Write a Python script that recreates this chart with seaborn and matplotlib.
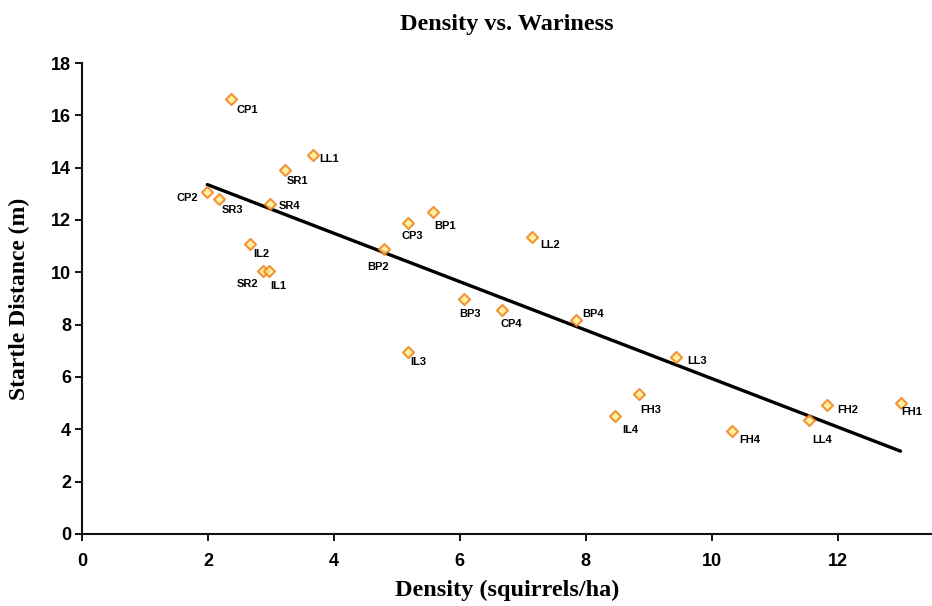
import matplotlib

matplotlib.use("Agg")
import matplotlib.pyplot as plt
import pandas as pd
import seaborn as sns

# site codes and values
sites = [
    "CP1", "LL1", "SR1", "CP2", "SR3", "SR4", "IL2", "SR2", "IL1", "CP3", "BP2", "BP1",
    "LL2", "BP3", "CP4", "BP4", "IL3", "LL3", "FH3", "IL4", "FH4", "LL4", "FH2", "FH1",
]
density = [
    2.37, 3.67, 3.22, 1.99, 2.18, 2.99, 2.67, 2.88, 2.97, 5.17, 4.79, 5.58,
    7.15, 6.07, 6.67, 7.84, 5.17, 9.44, 8.84, 8.46, 10.33, 11.54, 11.83, 13.0,
]
startle = [
    16.63, 14.49, 13.92, 13.08, 12.81, 12.62, 11.09, 10.06, 10.06, 11.89, 10.90, 12.31,
    11.36, 8.99, 8.57, 8.18, 6.96, 6.77, 5.35, 4.51, 3.94, 4.36, 4.93, 5.01,
]
x_ticks = [0, 2, 4, 6, 8, 10, 12]
y_ticks = [0, 2, 4, 6, 8, 10, 12, 14, 16, 18]

# label offsets in pixels (dx, dy), one per site
label_offsets = [
    (16, -11), (16, -4), (13, -11), (-20, -6), (13, -11), (19, -2), (11, -10), (-16, -13),
    (9, -15), (5, -13), (-6, -18), (12, -14), (18, -8), (6, -15), (9, -14), (17, 6),
    (11, -10), (21, -4), (12, -16), (16, -14), (17, -9), (14, -20), (21, -5), (11, -9),
]

df = pd.DataFrame({"site": sites, "density": density, "startle": startle})

sns.set_style("ticks")
plt.rcParams["font.family"] = ["Liberation Sans Narrow", "Liberation Sans", "DejaVu Sans"]
plt.rcParams["text.color"] = "black"
plt.rcParams["axes.labelcolor"] = "black"
plt.rcParams["xtick.color"] = "black"
plt.rcParams["ytick.color"] = "black"

fig = plt.figure(figsize=(9.32, 6.06), dpi=100)
ax = fig.add_axes([0.088, 0.119, 0.912, 0.777])

sns.regplot(
    data=df,
    x="density",
    y="startle",
    ci=None,
    marker="D",
    ax=ax,
    scatter_kws={"s": 32, "facecolor": "#FFEB8A", "edgecolor": "#EE7A12", "linewidths": 1.5, "zorder": 3},
    line_kws={"color": "black", "lw": 2.4, "zorder": 2},
)

for name, xv, yv, (dx, dy) in zip(sites, density, startle, label_offsets):
    ax.annotate(
        name, (xv, yv), xytext=(dx, dy), textcoords="offset pixels",
        ha="center", va="center", fontsize=8, fontweight="bold", color="black",
    )

ax.set_xlim(0, 13.5)
ax.set_ylim(0, 18)
ax.set_xticks(x_ticks)
ax.set_yticks(y_ticks)
ax.tick_params(direction="out", length=5, width=1.3, labelsize=13)
ax.tick_params(axis="x", pad=9)
ax.tick_params(axis="y", pad=3)
for lbl in ax.get_xticklabels() + ax.get_yticklabels():
    lbl.set_fontweight("bold")

sns.despine(ax=ax)
for side in ["left", "bottom"]:
    ax.spines[side].set_linewidth(1.5)
    ax.spines[side].set_color("#111111")

serif = {"family": "Liberation Serif", "weight": "bold", "size": 17.5}
ax.set_xlabel("Density (squirrels/ha)", fontdict=serif, labelpad=7)
ax.set_ylabel("Startle Distance (m)", fontdict={**serif, "size": 17}, labelpad=15)
ax.set_title("Density vs. Wariness", fontdict=serif, pad=24)

fig.savefig("out.png", dpi=100)
plt.close("all")
